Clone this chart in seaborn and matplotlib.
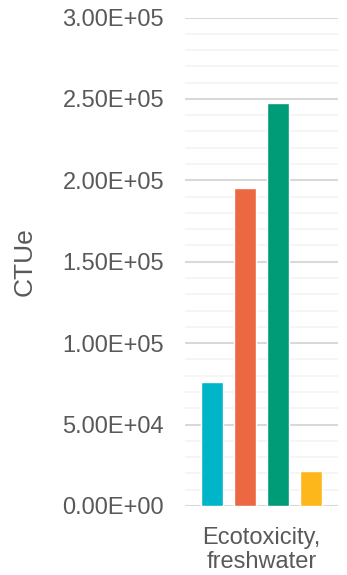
import matplotlib
matplotlib.use("Agg")
import matplotlib.pyplot as plt
from matplotlib.ticker import MultipleLocator, FuncFormatter
import pandas as pd
import seaborn as sns

# Data
categories = ["Ecotoxicity,\nfreshwater"]
scenarios = ["Scenario 1", "Scenario 2", "Scenario 3", "Scenario 4"]
values = [76000, 195000, 247500, 21500]
colors = ["#00B5C8", "#EC6842", "#009B77", "#FDB71B"]
y_label = "CTUe"

df = pd.DataFrame({
    "category": categories * len(scenarios),
    "scenario": scenarios,
    "value": values,
})

sns.set_theme(style="white")
plt.rcParams["font.family"] = ["Liberation Sans", "DejaVu Sans"]

text_color = "#595959"

fig = plt.figure(figsize=(3.47, 5.75), dpi=100)
ax = fig.add_axes([185 / 347, 69 / 575, 153 / 347, 488.5 / 575])

sns.barplot(data=df, x="category", y="value", hue="scenario",
            palette=colors, width=0.86, gap=0.33, saturation=1,
            legend=False, ax=ax, zorder=3)

ax.set_ylim(0, 3e5)
ax.set_xlim(-0.5, 0.5)
ax.yaxis.set_major_locator(MultipleLocator(5e4))
ax.yaxis.set_minor_locator(MultipleLocator(1e4))
ax.yaxis.set_major_formatter(FuncFormatter(lambda v, p: f"{v:.2E}"))

ax.grid(axis="y", which="major", color="#D9D9D9", lw=1.5, zorder=1)
ax.grid(axis="y", which="minor", color="#F2F2F2", lw=1.1, zorder=0)
ax.set_axisbelow(True)
for s in ax.spines.values():
    s.set_visible(False)

ax.tick_params(axis="y", which="both", length=0, pad=15,
               labelsize=17, labelcolor=text_color)
ax.tick_params(axis="x", length=0, pad=15, labelsize=17, labelcolor=text_color)
for lbl in ax.get_xticklabels():
    lbl.set_linespacing(1.12)
ax.set_xlabel("")
ax.set_ylabel(y_label, fontsize=19, color=text_color)
ax.yaxis.set_label_coords(-(185 - 37) / 153, 0.5)

fig.savefig("out.png", dpi=100)
